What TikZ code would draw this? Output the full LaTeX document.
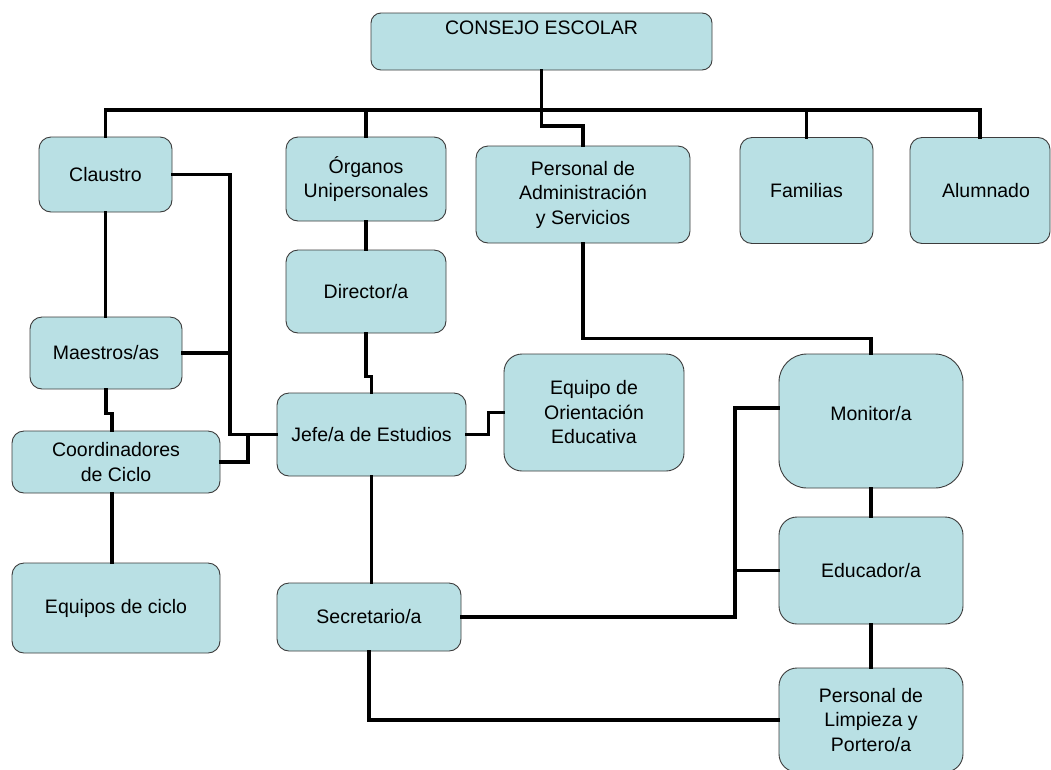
\documentclass[tikz,border=0pt]{standalone}
\usepackage{fontspec}
\setmainfont{Liberation Sans}
\usetikzlibrary{calc}
\definecolor{boxfill}{RGB}{185,224,228}
\definecolor{boxline}{RGB}{60,60,60}
\tikzset{
  orgbox/.style={draw=boxline, line width=0.9pt, fill=boxfill, rounded corners=#1,
    align=center, inner sep=2pt, font=\fontsize{19.5}{24.5}\selectfont},
  orgbox/.default=12pt,
  conn/.style={line width=3.2pt, line join=miter, line cap=rect, black}
}
\begin{document}
\begin{tikzpicture}[x=1pt,y=-1pt]
\useasboundingbox (0,0) rectangle (1051,769);
\fill[white] (0,0) rectangle (1051,769);
% boxes
\node[orgbox=10pt, minimum width=341pt, minimum height=57pt,
  label={[anchor=north, yshift=-5pt, font=\fontsize{19.5}{24.5}\selectfont]north:CONSEJO ESCOLAR}] (consejo) at (541.5,41.5) {};
\node[orgbox, minimum width=133pt, minimum height=75pt] (claustro) at (105.5,174.5) {Claustro};
\node[orgbox, minimum width=160pt, minimum height=84pt] (organos) at (366,179) {Órganos\\Unipersonales};
\node[orgbox, minimum width=214pt, minimum height=97pt] (admin) at (583,194.5) {Personal de\\Administración\\y Servicios};
\node[orgbox, minimum width=133pt, minimum height=106pt] (familias) at (806.5,190.5) {Familias};
\node[orgbox, minimum width=140pt, minimum height=106pt] (alumnado) at (980,190.5) {\hspace*{12pt}Alumnado};
\node[orgbox, minimum width=160pt, minimum height=83pt] (director) at (366,291.5) {Director/a};
\node[orgbox, minimum width=152pt, minimum height=72pt] (maestros) at (106,353) {Maestros/as};
\node[orgbox, minimum width=189pt, minimum height=83pt] (jefe) at (371.5,434.5) {Jefe/a de Estudios};
\node[orgbox=18pt, minimum width=180pt, minimum height=117pt] (eoe) at (594,412.5) {Equipo de\\Orientación\\Educativa};
\node[orgbox=28pt, minimum width=184pt, minimum height=134pt] (monitor) at (871,421) {\raisebox{16pt}{Monitor/a}};
\node[orgbox, minimum width=208pt, minimum height=62pt] (coord) at (116,462) {Coordinadores\\de Ciclo};
\node[orgbox, minimum width=208pt, minimum height=90pt] (equipos) at (116,608) {Equipos de ciclo};
\node[orgbox, minimum width=184pt, minimum height=68pt] (secretario) at (369,617) {Secretario/a};
\node[orgbox=18pt, minimum width=184pt, minimum height=107pt] (educador) at (871,570.5) {Educador/a};
\node[orgbox=18pt, minimum width=184pt, minimum height=104pt] (limpieza) at (871,720) {Personal de\\Limpieza y\\Portero/a};
% helper coordinates
\coordinate (bus) at (541.5,110);
\coordinate (jx) at (230,0);
\coordinate (jy) at (248,0);
\coordinate (mx) at (735,0);
% connectors
\draw[conn] (consejo.south) -- (bus);
\draw[conn] (claustro.north) |- (bus) -| (alumnado.north);
\draw[conn] (organos.north) -- (organos.north |- bus);
\draw[conn] (familias.north) -- (familias.north |- bus);
\draw[conn] (bus) -- ++(0,16) -| (admin.north);
\draw[conn] (claustro.south) -- (claustro.south |- maestros.north);
\draw[conn] (claustro.east) -| (jx |- jefe.west) -- (jefe.west);
\draw[conn] (maestros.east) -- (maestros.east -| jx);
\draw[conn] (maestros.south) -- ++(0,24) -| ([xshift=-4pt]coord.north);
\draw[conn] (coord.east) -| (jy |- jefe.west);
\draw[conn] ([xshift=-4pt]coord.south) -- ([xshift=-4pt]equipos.north);
\draw[conn] (organos.south) -- (director.north);
\draw[conn] (director.south) -- ++(0,43) -| (jefe.north);
\draw[conn] (jefe.east) -- ++(22,0) |- (eoe.west);
\draw[conn] (jefe.south) -- (jefe.south |- secretario.north);
\draw[conn] (admin.south) -- ++(0,95) -| (monitor.north);
\draw[conn] ([yshift=13pt]monitor.west) -| (mx |- secretario.east) -- (secretario.east);
\draw[conn] (educador.west) -- (educador.west -| mx);
\draw[conn] (monitor.south) -- (educador.north);
\draw[conn] (educador.south) -- (limpieza.north);
\draw[conn] (secretario.south) |- (limpieza.west);
\end{tikzpicture}
\end{document}
